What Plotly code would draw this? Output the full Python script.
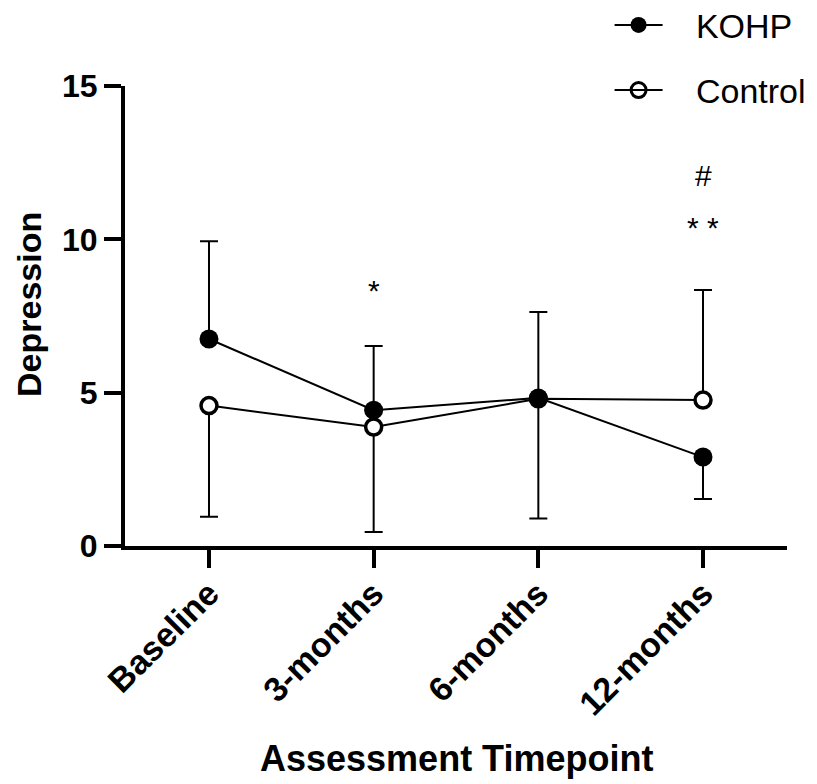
import plotly.graph_objects as go

categories = ["Baseline", "3-months", "6-months", "12-months"]
kohp_mean = [6.75, 4.43, 4.83, 2.90]
kohp_err_plus = [3.19, 2.09, 2.80, 0.0]
kohp_err_minus = [0.0, 0.0, 0.0, 1.37]
control_mean = [4.58, 3.88, 4.80, 4.76]
control_err_plus = [0.0, 0.0, 0.0, 3.59]
control_err_minus = [3.63, 3.42, 3.90, 0.0]

sig_labels = ["*", "* *", "#"]
sig_x = ["3-months", "12-months", "12-months"]
sig_y = [8.33, 10.38, 12.07]

y_ticks = [0, 5, 10, 15]

FONT = "Liberation Sans, Arial, Helvetica, sans-serif"
NB = "\u00a0\u00a0\u00a0"
x_idx = list(range(len(categories)))

fig = go.Figure()

# Control (drawn first so KOHP sits on top)
fig.add_trace(go.Scatter(
    x=x_idx, y=control_mean, name="Control", mode="lines+markers",
    line=dict(color="black", width=2),
    marker=dict(symbol="circle", size=16, color="white",
                line=dict(color="black", width=3.5)),
    error_y=dict(type="data", symmetric=False, array=control_err_plus,
                 arrayminus=control_err_minus, color="black", thickness=2, width=9),
    showlegend=False, legendgroup="b",
))
# legend entry for Control (open circle with line through it)
fig.add_trace(go.Scatter(
    x=[None], y=[None], name=NB + "Control", mode="lines+markers",
    line=dict(color="black", width=2),
    marker=dict(symbol="circle-open", size=15, color="black",
                line=dict(color="black", width=3)),
    legendrank=2, legendgroup="b", hoverinfo="skip",
))

# KOHP
fig.add_trace(go.Scatter(
    x=x_idx, y=kohp_mean, name=NB + "KOHP", mode="lines+markers",
    line=dict(color="black", width=2),
    marker=dict(symbol="circle", size=19, color="black"),
    error_y=dict(type="data", symmetric=False, array=kohp_err_plus,
                 arrayminus=kohp_err_minus, color="black", thickness=2, width=9),
    legendrank=1, legendgroup="a",
))

for lab, xc, yv in zip(sig_labels, sig_x, sig_y):
    fig.add_annotation(x=categories.index(xc), y=yv, text=lab, showarrow=False,
                       xref="x", yref="y", font=dict(family=FONT, size=30, color="black"))

fig.add_annotation(text="Assessment Timepoint", xref="paper", yref="paper",
                   x=0.5, y=-0.462, showarrow=False, xanchor="center", yanchor="middle",
                   font=dict(family=FONT, size=36, color="black", weight="bold"))
fig.add_annotation(text="Depression", xref="paper", yref="paper",
                   x=-0.145, y=0.524, showarrow=False, textangle=-90,
                   xanchor="center", yanchor="middle",
                   font=dict(family=FONT, size=34, color="black", weight="bold"))

fig.update_layout(
    width=809, height=776,
    margin=dict(l=117, r=30, t=78, b=238, autoexpand=False),
    paper_bgcolor="white", plot_bgcolor="white",
    font=dict(family=FONT, color="black"),
    showlegend=True,
    legend=dict(x=0.732, y=1.195, xanchor="left", yanchor="top",
                font=dict(family=FONT, size=34, color="black"),
                bgcolor="rgba(0,0,0,0)", itemwidth=48, tracegroupgap=18,
                traceorder="grouped"),
    xaxis=dict(
        range=[-0.51, 3.51], tickmode="array", tickvals=x_idx, ticktext=categories,
        tickangle=-45, ticks="outside", ticklen=18, tickwidth=3.5, tickcolor="black",
        ticklabelstandoff=-8,
        showline=True, linecolor="black", linewidth=4, showgrid=False, zeroline=False,
        tickfont=dict(family=FONT, size=34, color="black", weight="bold"),
    ),
    yaxis=dict(
        range=[0, 15], tickmode="array", tickvals=y_ticks,
        ticks="outside", ticklen=17, tickwidth=3.5, tickcolor="black",
        showline=True, linecolor="black", linewidth=4, showgrid=False, zeroline=False,
        tickfont=dict(family=FONT, size=32, color="black", weight="bold"),
    ),
)

fig.write_html("out.html")
